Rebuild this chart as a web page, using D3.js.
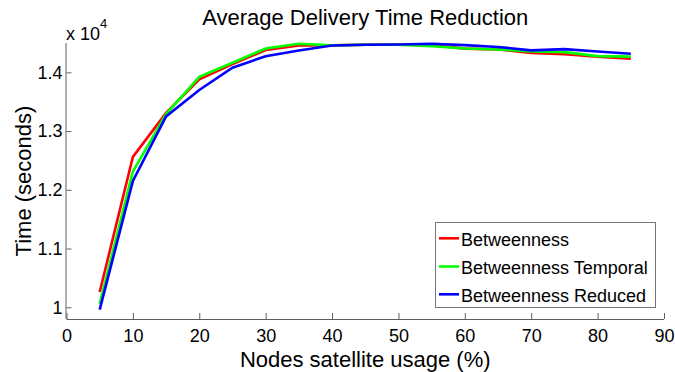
<!DOCTYPE html>
<html>
<head>
<meta charset="utf-8">
<script src="https://cdn.jsdelivr.net/npm/d3@7/dist/d3.min.js"></script>
<style>
  html, body { margin: 0; padding: 0; background: #fff; }
  svg { display: block; font-family: "Liberation Sans", Arial, Helvetica, sans-serif; }
</style>
</head>
<body>
<svg id="chart" width="675" height="372"></svg>
<script>
// Satellite usage levels (%)
const usage = [5, 10, 15, 20, 25, 30, 35, 40, 45, 50, 55, 60, 65, 70, 75, 80, 85];

// Average delivery time (seconds) per centrality variant
const betweenness = [10260, 12560, 13310, 13880, 14140, 14380, 14460, 14460, 14470, 14470, 14465, 14405, 14390, 14330, 14310, 14266, 14233];
const betweennessTemporal = [10060, 12310, 13290, 13925, 14163, 14407, 14486, 14460, 14470, 14470, 14447, 14407, 14390, 14356, 14345, 14276, 14268];
const betweennessReduced = [9960, 12150, 13250, 13700, 14080, 14276, 14373, 14458, 14470, 14475, 14487, 14463, 14433, 14375, 14395, 14355, 14317];

const seriesNames = ["Betweenness", "Betweenness Temporal", "Betweenness Reduced"];
const seriesColors = ["#ff0000", "#00ff00", "#0000ff"];
const seriesValues = [betweenness, betweennessTemporal, betweennessReduced];

const xTicks = [0, 10, 20, 30, 40, 50, 60, 70, 80, 90];
const yTicks = [10000, 11000, 12000, 13000, 14000];
const yTickLabels = ["1", "1.1", "1.2", "1.3", "1.4"];

const svg = d3.select("#chart");
const plotLeft = 66.5, plotRight = 664, plotTop = 43, plotBottom = 319;

const x = d3.scaleLinear().domain([0, 90]).range([plotLeft, plotRight]);
const y = d3.scaleLinear().domain([9800, 14500]).range([plotBottom, plotTop]);

const axisColor = "#5e5e5e";

// x axis (ticks point into the plot)
const xAxis = svg.append("g")
  .attr("transform", `translate(0,${plotBottom})`)
  .call(d3.axisBottom(x).tickValues(xTicks).tickSizeInner(-6).tickSizeOuter(0).tickPadding(12).tickFormat(d3.format("d")));
xAxis.select(".domain").attr("stroke", axisColor).attr("d", `M${plotLeft},0.5H${plotRight}`);
xAxis.selectAll(".tick line").attr("stroke", axisColor);
xAxis.selectAll(".tick text").attr("fill", "#000").style("font-size", "18px").attr("dy", "0.71em").attr("y", 10.5);

// y axis
const yAxis = svg.append("g")
  .attr("transform", `translate(${plotLeft},0)`)
  .call(d3.axisLeft(y).tickValues(yTicks).tickSizeInner(-5).tickSizeOuter(0).tickPadding(4)
    .tickFormat((d, i) => yTickLabels[i]));
yAxis.select(".domain").attr("stroke", axisColor).attr("d", `M-0.5,${plotBottom}V${plotTop}`);
yAxis.selectAll(".tick line").attr("stroke", axisColor);
yAxis.selectAll(".tick text").attr("fill", "#000").style("font-size", "18px").attr("x", -4);

// exponent label
const expo = svg.append("text").attr("x", 66).attr("y", 40).style("font-size", "18px").attr("fill", "#000");
expo.append("tspan").text("x 10");
expo.append("tspan").attr("dy", -12).style("font-size", "13px").text("4");

// title and axis labels
svg.append("text").attr("x", (plotLeft + plotRight) / 2).attr("y", 25).attr("text-anchor", "middle")
  .style("font-size", "22px").attr("fill", "#000").text("Average Delivery Time Reduction");
svg.append("text").attr("x", (plotLeft + plotRight) / 2).attr("y", 366.5).attr("text-anchor", "middle")
  .style("font-size", "22px").attr("fill", "#000").text("Nodes satellite usage (%)");
svg.append("text").attr("transform", `translate(31,${(plotTop + plotBottom) / 2}) rotate(-90)`).attr("text-anchor", "middle")
  .style("font-size", "22px").attr("fill", "#000").text("Time (seconds)");

// lines
const line = d3.line().x((d, i) => x(usage[i])).y(d => y(d));
seriesValues.forEach((vals, k) => {
  svg.append("path").datum(vals)
    .attr("fill", "none")
    .attr("stroke", seriesColors[k])
    .attr("stroke-width", 2.6)
    .attr("stroke-linejoin", "miter")
    .attr("d", line);
});

// legend
const lg = svg.append("g");
lg.append("rect").attr("x", 435.5).attr("y", 222.5).attr("width", 220).attr("height", 85)
  .attr("fill", "#fff").attr("stroke", "#777").attr("stroke-width", 1);
const rowY = [238.3, 266.5, 294.3];
seriesNames.forEach((name, k) => {
  lg.append("line").attr("x1", 439).attr("x2", 459).attr("y1", rowY[k]).attr("y2", rowY[k])
    .attr("stroke", seriesColors[k]).attr("stroke-width", 2.6);
  lg.append("text").attr("x", 461).attr("y", rowY[k] + 7.5).style("font-size", "18px").attr("fill", "#000").text(name);
});
</script>
</body>
</html>
